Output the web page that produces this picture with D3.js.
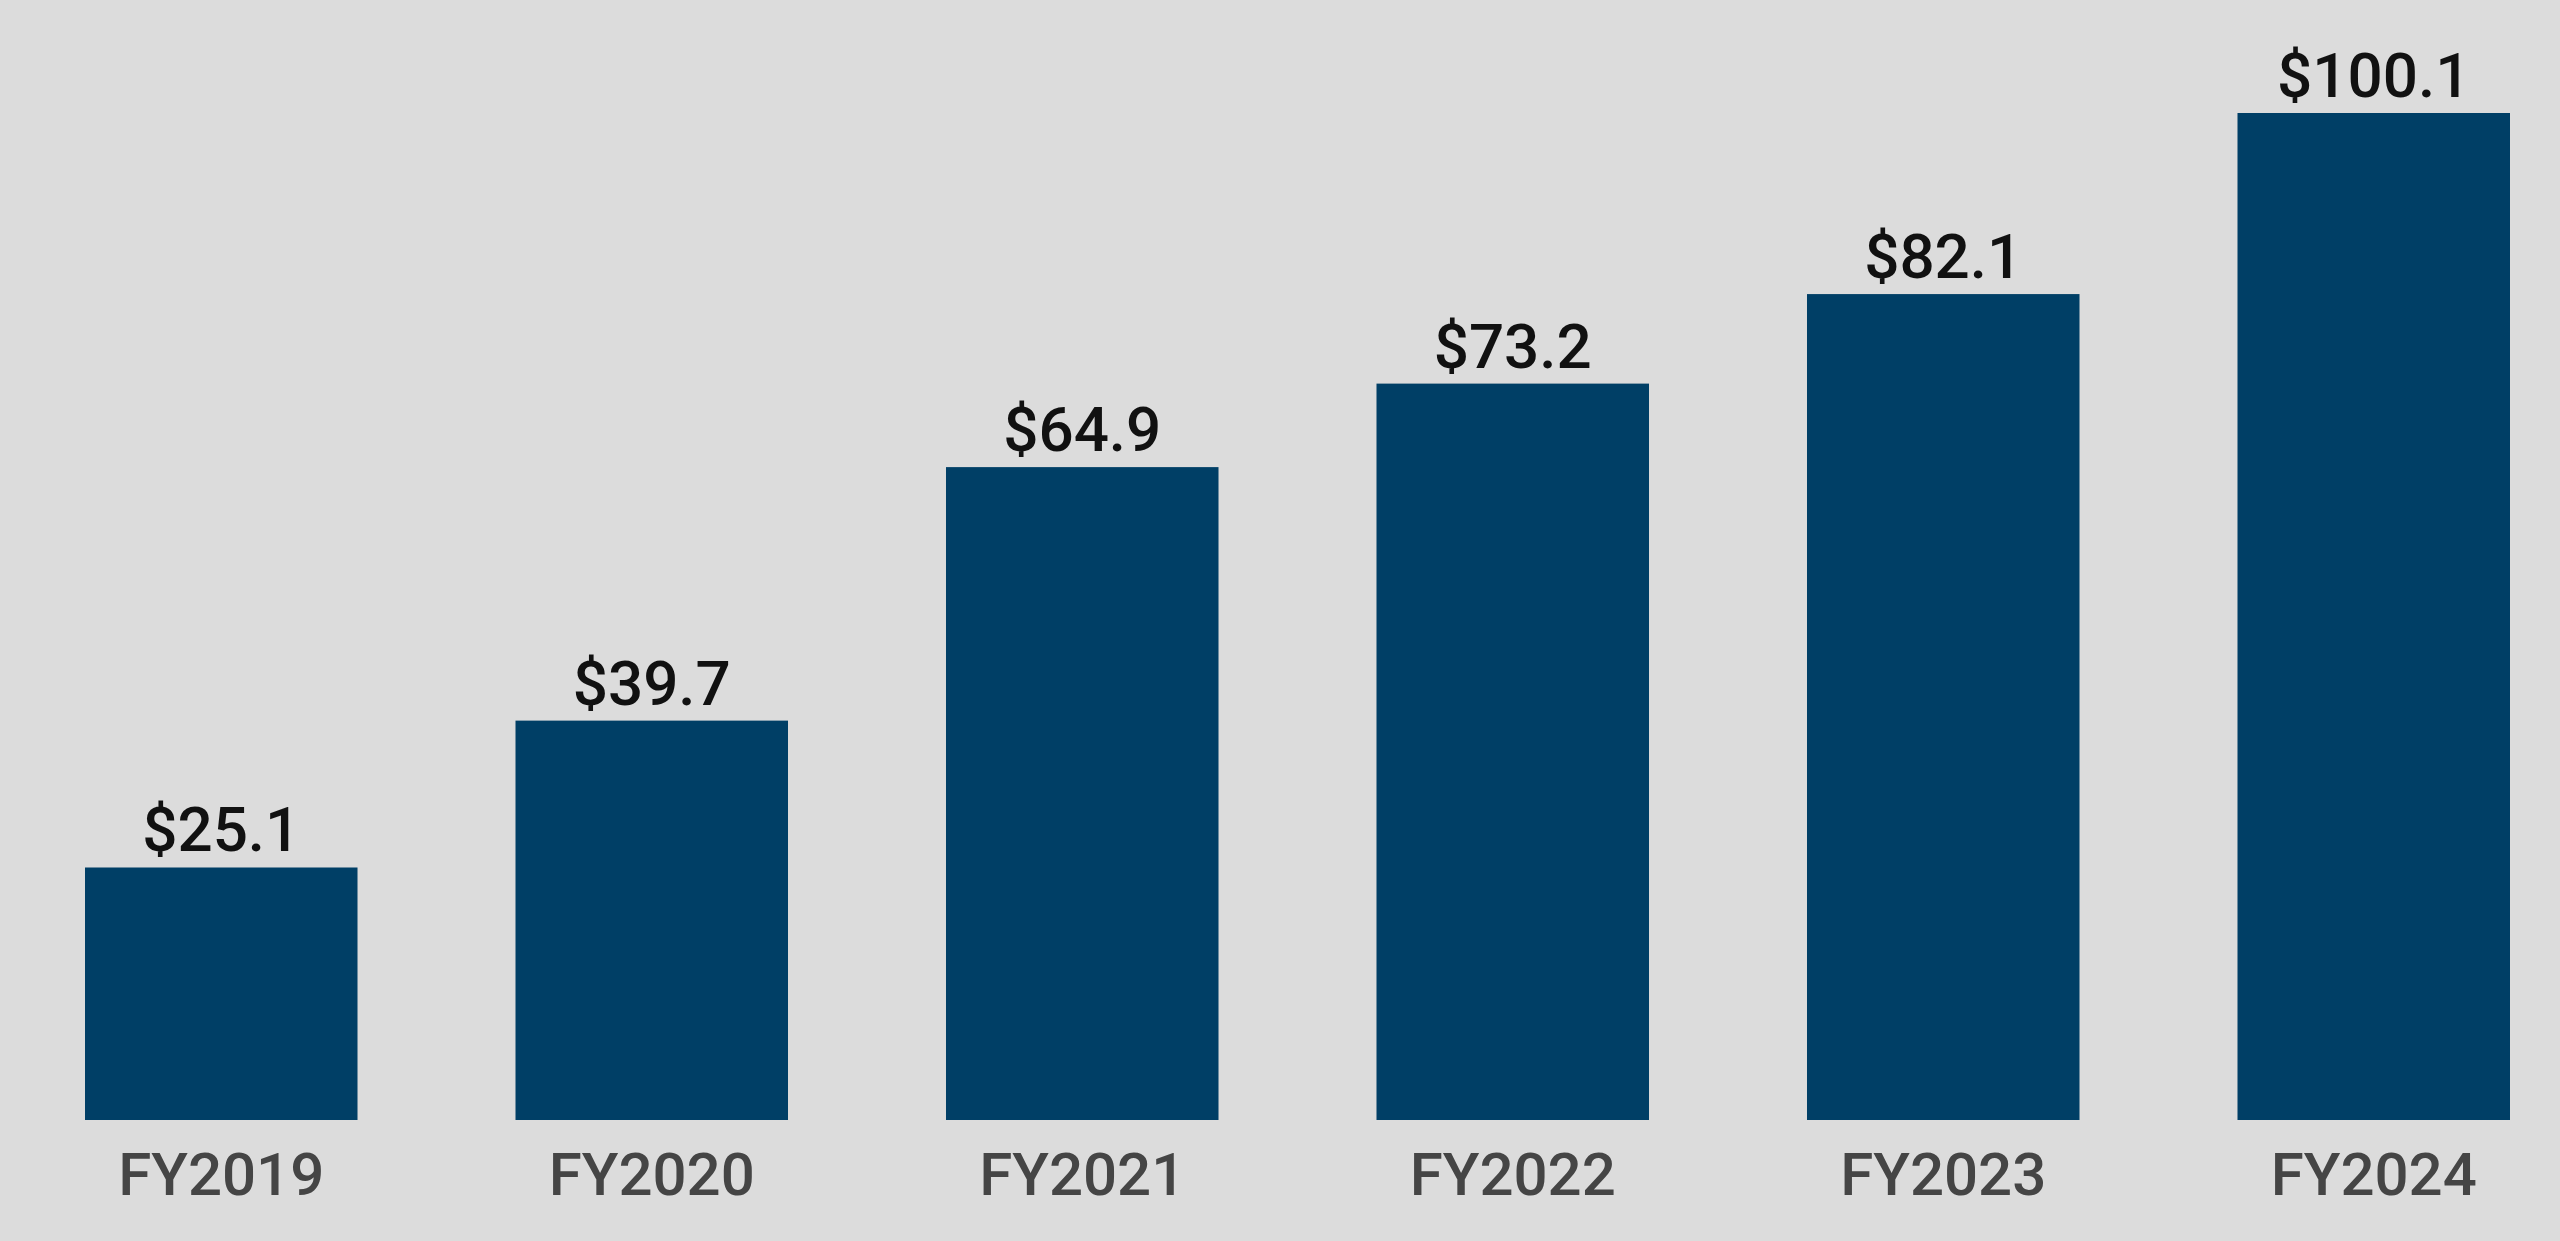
<!DOCTYPE html>
<html>
<head>
<meta charset="utf-8">
<script src="https://cdn.jsdelivr.net/npm/d3@7"></script>
<style>
html,body{margin:0;padding:0;background:#dcdcdc;overflow:hidden;}
svg{display:block;}
</style>
</head>
<body>
<svg id="chart" width="2560" height="1241"></svg>
<script>
const categories = ["FY2019","FY2020","FY2021","FY2022","FY2023","FY2024"];
const values = [25.1, 39.7, 64.9, 73.2, 82.1, 100.1];
const valueLabels = ["$25.1","$39.7","$64.9","$73.2","$82.1","$100.1"];

const svg = d3.select("#chart");
svg.append("rect").attr("width",2560).attr("height",1241).attr("fill","#dcdcdc");

const x = d3.scaleBand().domain(categories).range([85,2510]).paddingInner(0.367).paddingOuter(0);
const y = d3.scaleLinear().domain([0,100.1]).range([1120,113]);

const data = categories.map((c,i)=>({c, v:values[i], label:valueLabels[i]}));

svg.selectAll("rect.bar").data(data).join("rect")
  .attr("class","bar")
  .attr("x",d=>x(d.c))
  .attr("y",d=>y(d.v))
  .attr("width",x.bandwidth())
  .attr("height",d=>y(0)-y(d.v))
  .attr("fill","#003f66");

svg.selectAll("text.val").data(data).join("text")
  .attr("class","val")
  .attr("x",d=>x(d.c)+x.bandwidth()/2)
  .attr("y",d=>y(d.v)-16)
  .attr("text-anchor","middle")
  .attr("font-family","Roboto, sans-serif")
  .attr("font-size",62)
  .attr("font-weight",500)
  .attr("fill","#111")
  .text(d=>d.label);

const xAxis = d3.axisBottom(x).tickSize(0).tickPadding(0);
const gx = svg.append("g").attr("transform","translate(0,1120)").call(xAxis);
gx.select(".domain").remove();
gx.selectAll("text")
  .attr("y",75)
  .attr("dy",0)
  .attr("font-family","Roboto, sans-serif")
  .attr("font-size",60)
  .attr("font-weight",500)
  .attr("fill","#454545");
</script>
</body>
</html>
